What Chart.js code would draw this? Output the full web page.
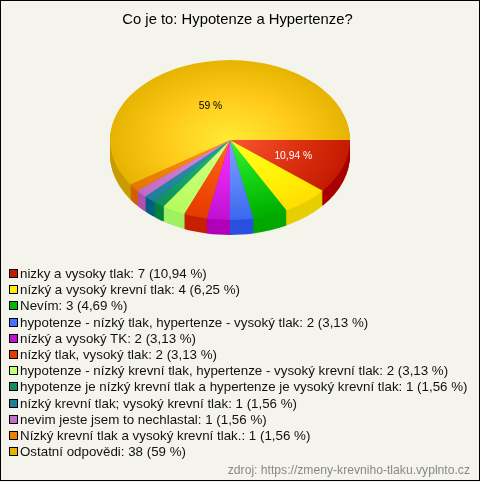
<!DOCTYPE html>
<html>
<head>
<meta charset="utf-8">
<script src="https://cdn.jsdelivr.net/npm/chart.js@4/dist/chart.umd.min.js"></script>
<style>
  html, body { margin: 0; padding: 0; background: #ffffff; }
  #wrap { position: relative; width: 480px; height: 482px; background: #f5f4ec; overflow: hidden; }
  #wrap canvas { position: absolute; left: 0; top: 0; }
  #frame { position: absolute; left: 0; top: 0; width: 478px; height: 479px; border: 1px solid #000; }
  #legend { position: absolute; left: 9px; top: 266px; margin: 0; padding: 0; list-style: none;
    font: 13.33px "Liberation Sans", Arial, sans-serif; color: #111; white-space: nowrap; }
  #legend li { height: 16.2px; line-height: 16.2px; }
  #legend i { display: inline-block; width: 7px; height: 7px; border: 1px solid #000; margin-right: 2px; vertical-align: 0px; }
</style>
</head>
<body>
<div id="wrap">
  <canvas id="pieChart" width="480" height="482"></canvas>
  <ul id="legend"></ul>
  <div id="frame"></div>
</div>
<script>
const categories = [
  "nizky a vysoky tlak",
  "nízký a vysoký krevní tlak",
  "Nevím",
  "hypotenze - nízký tlak, hypertenze - vysoký tlak",
  "nízký a vysoký TK",
  "nízký tlak, vysoký tlak",
  "hypotenze - nízký krevní tlak, hypertenze - vysoký krevní tlak",
  "hypotenze je nízký krevní tlak a hypertenze je vysoký krevní tlak",
  "nízký krevní tlak; vysoký krevní tlak",
  "nevim jeste jsem to nechlastal",
  "Nízký krevní tlak a vysoký krevní tlak.",
  "Ostatní odpovědi"
];
const counts = [7, 4, 3, 2, 2, 2, 2, 1, 1, 1, 1, 38];
const percents = ["10,94", "6,25", "4,69", "3,13", "3,13", "3,13", "3,13", "1,56", "1,56", "1,56", "1,56", "59"];
const sliceLabels = ["10,94 %", "", "", "", "", "", "", "", "", "", "", "59 %"];
const labelColors = ["#ffffff", "", "", "", "", "", "", "", "", "", "", "#000000"];

const innerColors = ["#fb5535", "#ffff22", "#35f535", "#82a2ff", "#f235ff", "#ff6c22", "#d4ff88", "#22ba72", "#3295b2", "#e285e2", "#ff9422", "#ffeb35"];
const midColors = ["#dd3312", "#fff30a", "#12d012", "#5a84f8", "#dc20ea", "#f24e08", "#c4ff70", "#18a468", "#2888a4", "#cf78d2", "#f28408", "#ffca1a"];
const outerColors = ["#c41a00", "#ffdf00", "#00ad00", "#3a68ef", "#bf10d0", "#e63a00", "#b6fb5e", "#0f8f5e", "#1f7e98", "#bd6cc6", "#e67600", "#e6b400"];
const sideColors = ["#a80000", "#e6cf00", "#00a800", "#2a50e0", "#b000b8", "#c82000", "#a0f060", "#008040", "#006080", "#b050b0", "#d06000", "#c89c00"];
const swatchColors = ["#c41a00", "#ffee00", "#00b800", "#4a70ff", "#c010d0", "#e03c00", "#c4ff78", "#109060", "#1f7e98", "#c070c8", "#f08000", "#e6b400"];

const titleText = "Co je to: Hypotenze a Hypertenze?";
const sourceText = "zdroj: https://zmeny-krevniho-tlaku.vyplnto.cz";

// pie is drawn flat by Chart.js, then squashed + moved here to look 3d
const squash = 2 / 3;
const moveX = -7.5;
const pieMiddleY = 140;
const depth = 15;

function tilt(ctx, arc, down) {
  ctx.translate(moveX, pieMiddleY + down);
  ctx.scale(1, squash);
  ctx.translate(0, -arc.y);
}

const tiltPlugin = {
  id: "tilt",
  beforeDatasetsDraw(chart) {
    const ctx = chart.ctx;
    const arcs = chart.getDatasetMeta(0).data;
    for (let d = depth; d > 0; d--) {
      arcs.forEach((arc, i) => {
        const keep = arc.options;
        arc.options = Object.assign({}, keep, { backgroundColor: sideColors[i] });
        ctx.save();
        tilt(ctx, arc, d);
        arc.draw(ctx);
        ctx.restore();
        arc.options = keep;
      });
    }
    ctx.save();
    tilt(ctx, arcs[0], 0);
  },
  afterDatasetsDraw(chart) {
    const ctx = chart.ctx;
    ctx.restore();
    ctx.font = '10.3px "Liberation Sans", Arial, sans-serif';
    ctx.textAlign = "center";
    ctx.textBaseline = "middle";
    chart.getDatasetMeta(0).data.forEach((arc, i) => {
      if (!sliceLabels[i]) return;
      const mid = (arc.startAngle + arc.endAngle) / 2;
      const r = arc.outerRadius * 0.56;
      // big slice label sits a bit lower than its mid angle in the original
      const nudge = Math.sin(mid) < -0.5 ? 9 : 1.5;
      ctx.fillStyle = labelColors[i];
      ctx.fillText(sliceLabels[i], arc.x + moveX + Math.cos(mid) * r, pieMiddleY + Math.sin(mid) * r * squash + nudge);
    });
  }
};

new Chart(document.getElementById("pieChart"), {
  type: "pie",
  data: {
    labels: categories,
    datasets: [{
      data: counts,
      borderWidth: 0,
      backgroundColor(c) {
        const area = c.chart.chartArea;
        if (!area || c.dataIndex === undefined) return outerColors[c.dataIndex] || "#000";
        const x = (area.left + area.right) / 2;
        const y = (area.top + area.bottom) / 2;
        const g = c.chart.ctx.createRadialGradient(x, y, 0, x, y, 120);
        g.addColorStop(0, innerColors[c.dataIndex]);
        g.addColorStop(0.55, midColors[c.dataIndex]);
        g.addColorStop(1, outerColors[c.dataIndex]);
        return g;
      }
    }]
  },
  options: {
    responsive: false,
    animation: false,
    events: [],
    rotation: 90,
    layout: { padding: { left: 5, right: 10, top: 0, bottom: 0 } },
    plugins: {
      legend: { display: false },
      tooltip: { enabled: false },
      title: {
        display: true,
        text: titleText,
        color: "#000",
        font: { family: '"Liberation Sans", Arial, sans-serif', size: 14.8, weight: "normal" },
        padding: { top: 11.5, bottom: 0 }
      },
      subtitle: {
        display: true,
        text: sourceText,
        position: "bottom",
        align: "end",
        color: "#888",
        font: { family: '"Liberation Sans", Arial, sans-serif', size: 12.15, weight: "normal" },
        padding: { top: 194.45, bottom: 3.71 }
      }
    }
  },
  plugins: [tiltPlugin]
});

const legend = document.getElementById("legend");
categories.forEach((name, i) => {
  const li = document.createElement("li");
  const box = document.createElement("i");
  box.style.background = swatchColors[i];
  li.appendChild(box);
  li.appendChild(document.createTextNode(name + ": " + counts[i] + " (" + percents[i] + " %)"));
  legend.appendChild(li);
});
</script>
</body>
</html>
